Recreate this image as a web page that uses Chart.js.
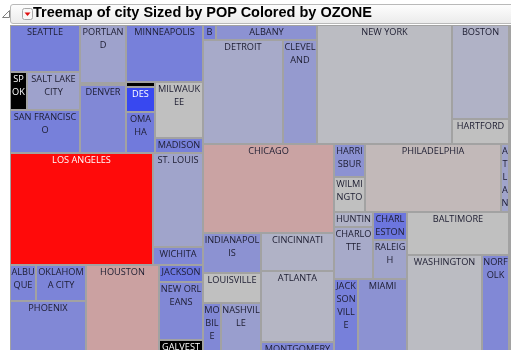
<!DOCTYPE html>
<html>
<head>
<meta charset="utf-8">
<script src="https://cdn.jsdelivr.net/npm/chart.js@4.4.1/dist/chart.umd.min.js"></script>
<style>
    html, body { margin: 0; padding: 0; background: #fff; overflow: hidden; }
    #wrap { position: relative; width: 511px; height: 360px; }
    #treemap { position: absolute; left: 0; top: 0; }
    #outline { position: absolute; left: 2px; top: 10px; }
    #titleBox {
        position: absolute; left: 10px; top: 4px; width: 520px; height: 18px;
        border: 1px solid #b9b9b9; border-radius: 3px;
        background: linear-gradient(#fdfdfd, #ebebeb);
    }
    #menuBtn { position: absolute; left: 22px; top: 8px; }
    #title {
        position: absolute; left: 33px; top: 4px; line-height: 20px;
        font: bold 14.5px 'Liberation Sans', Arial, sans-serif; color: #000; white-space: nowrap;
    }
</style>
</head>
<body>
<div id="wrap">
    <canvas id="treemap" width="511" height="360"></canvas>
    <svg id="outline" width="9" height="9"><polygon points="7.5,0.5 7.5,7.5 0.5,7.5" fill="#fff" stroke="#808080"/></svg>
    <div id="titleBox"></div>
    <svg id="menuBtn" width="11" height="12">
        <rect x="0.5" y="0.5" width="10" height="11" rx="2" fill="#f7f7f7" stroke="#a8a8a8"/>
        <polygon points="2.5,4.5 8.5,4.5 5.5,8" fill="#e01010"/>
    </svg>
    <div id="title">Treemap of city Sized by POP Colored by OZONE</div>
</div>
<script>
// Cities, population (thousands, read from tile areas) and ozone (ppm, null = missing)
const cities = ['SEATTLE', 'SPOKANE', 'SALT LAKE CITY', 'SAN FRANCISCO', 'PORTLAND', 'BOISE', 'DENVER',
    'MINNEAPOLIS', 'SIOUX FALLS', 'DES MOINES', 'OMAHA', 'MILWAUKEE', 'MADISON',
    'LOS ANGELES', 'ST. LOUIS', 'WICHITA',
    'ALBUQUERQUE', 'OKLAHOMA CITY', 'PHOENIX', 'HOUSTON', 'JACKSON', 'NEW ORLEANS', 'GALVESTON',
    'BUFFALO', 'ALBANY', 'DETROIT', 'CLEVELAND', 'NEW YORK', 'BOSTON', 'HARTFORD',
    'CHICAGO', 'INDIANAPOLIS', 'LOUISVILLE', 'MOBILE', 'NASHVILLE', 'CINCINNATI', 'ATLANTA', 'MONTGOMERY',
    'HARRISBURG', 'WILMINGTON', 'PHILADELPHIA', 'ATLANTIC CITY',
    'HUNTINGTON', 'CHARLOTTE', 'CHARLESTON', 'RALEIGH', 'JACKSONVILLE', 'MIAMI',
    'BALTIMORE', 'WASHINGTON', 'NORFOLK'];
const pop = [1744, 338, 1053, 1614, 1399, 60, 1640,
    2341, 71, 391, 649, 1425, 382,
    8488, 2478, 490,
    487, 964, 2215, 3497, 401, 1356, 389,
    103, 803, 4410, 1874, 8514, 2840, 755,
    6214, 1214, 938, 501, 1113, 1451, 2747, 542,
    542, 575, 4901, 288,
    306, 1071, 512, 722, 973, 1987,
    2325, 4042, 1419];
const ozone = [0.108, null, 0.125, 0.108, 0.125, null, 0.112,
    0.108, null, 0.080, 0.105, 0.140, 0.108,
    0.320, 0.126, 0.112,
    0.110, 0.110, 0.112, 0.171, 0.103, 0.112, null,
    0.108, 0.117, 0.129, 0.121, 0.138, 0.133, 0.140,
    0.169, 0.117, 0.140, 0.112, 0.123, 0.133, 0.135, 0.112,
    0.117, 0.140, 0.147, 0.126,
    0.133, 0.129, 0.103, 0.126, 0.108, 0.117,
    0.140, 0.138, 0.112];

// Tile nesting: 'h' = children side by side, 'v' = children stacked
const tileTree = ['h',
    ['v',
        ['h',
            ['v', 'SEATTLE', ['h', 'SPOKANE', 'SALT LAKE CITY'], 'SAN FRANCISCO'],
            ['v', 'PORTLAND', 'BOISE', 'DENVER'],
            ['v', 'MINNEAPOLIS', ['h', ['v', 'SIOUX FALLS', 'DES MOINES', 'OMAHA'], ['v', 'MILWAUKEE', 'MADISON']]]],
        ['h', 'LOS ANGELES', ['v', 'ST. LOUIS', 'WICHITA']],
        ['h',
            ['v', ['h', 'ALBUQUERQUE', 'OKLAHOMA CITY'], 'PHOENIX'],
            'HOUSTON',
            ['v', 'JACKSON', 'NEW ORLEANS', 'GALVESTON']]],
    ['v',
        ['h', ['v', ['h', 'BUFFALO', 'ALBANY'], ['h', 'DETROIT', 'CLEVELAND']], 'NEW YORK', ['v', 'BOSTON', 'HARTFORD']],
        ['h',
            ['v', 'CHICAGO',
                ['h',
                    ['v', 'INDIANAPOLIS', 'LOUISVILLE', ['h', 'MOBILE', 'NASHVILLE']],
                    ['v', 'CINCINNATI', 'ATLANTA', 'MONTGOMERY']]],
            ['v',
                ['h', ['v', 'HARRISBURG', 'WILMINGTON'], 'PHILADELPHIA', 'ATLANTIC CITY'],
                ['h',
                    ['v', ['h', ['v', 'HUNTINGTON', 'CHARLOTTE'], ['v', 'CHARLESTON', 'RALEIGH']], ['h', 'JACKSONVILLE', 'MIAMI']],
                    ['v', 'BALTIMORE', ['h', 'WASHINGTON', 'NORFOLK']]]]]]];

// Blue - grey - red ozone gradient
const lowColor = [56, 72, 240];
const midColor = [192, 192, 192];
const highColor = [255, 10, 10];
const ozoneMid = 0.14;
const known = ozone.filter(v => v !== null);
const ozoneLo = Math.min(...known);
const ozoneHi = Math.max(...known);

function ozoneRgb(v) {
    if (v === null) return [0, 0, 0];
    let a, b, t;
    if (v <= ozoneMid) { a = lowColor; b = midColor; t = (v - ozoneLo) / (ozoneMid - ozoneLo); }
    else { a = midColor; b = highColor; t = (v - ozoneMid) / (ozoneHi - ozoneMid); }
    return a.map((c, i) => Math.round(c + (b[i] - c) * t));
}

function sumOf(node) {
    if (typeof node === 'string') return pop[cities.indexOf(node)];
    return node.slice(1).reduce((s, c) => s + sumOf(c), 0);
}

// slice-and-dice in 0..1 units, following the nesting above
function layout(node, x0, y0, x1, y1, out) {
    if (typeof node === 'string') {
        out.push({ name: node, x0: x0, y0: y0, x1: x1, y1: y1 });
        return out;
    }
    const total = sumOf(node);
    let pos = node[0] === 'h' ? x0 : y0;
    node.slice(1).forEach(child => {
        const f = sumOf(child) / total;
        if (node[0] === 'h') {
            const w = (x1 - x0) * f;
            layout(child, pos, y0, pos + w, y1, out);
            pos += w;
        } else {
            const h = (y1 - y0) * f;
            layout(child, x0, pos, x1, pos + h, out);
            pos += h;
        }
    });
    return out;
}

const tiles = layout(tileTree, 0, 0, 1, 1, []);

const labelFont = "9.2px 'Open Sans', sans-serif";
const lineStep = 13;

function wrapChars(ctx, text, maxW) {
    const lines = [];
    let line = '';
    for (const ch of text) {
        if (line === '' && ch === ' ') continue;
        if (line !== '' && ctx.measureText(line + ch).width > maxW) {
            lines.push(line.trimEnd());
            line = ch === ' ' ? '' : ch;
        } else {
            line += ch;
        }
    }
    if (line) lines.push(line);
    return lines;
}

const treemapTiles = {
    id: 'treemapTiles',
    beforeDatasetsDraw(chart) {
        const { ctx, chartArea, scales: { x, y } } = chart;
        ctx.save();
        ctx.fillStyle = '#a2a2a2';
        ctx.fillRect(chartArea.left, chartArea.top, chart.width - chartArea.left, chart.height - chartArea.top);
        ctx.font = labelFont;
        ctx.textAlign = 'center';
        ctx.textBaseline = 'alphabetic';
        tiles.forEach(t => {
            const i = cities.indexOf(t.name);
            const left = Math.round(x.getPixelForValue(t.x0)) + 1;
            const right = Math.round(x.getPixelForValue(t.x1)) - 1;
            const top = Math.round(y.getPixelForValue(t.y0)) + 1;
            const bottom = Math.round(y.getPixelForValue(t.y1)) - 1;
            const w = right - left, h = bottom - top;
            if (w <= 0 || h <= 0) return;
            const rgb = ozoneRgb(ozone[i]);
            ctx.fillStyle = `rgb(${rgb[0]}, ${rgb[1]}, ${rgb[2]})`;
            ctx.fillRect(left, top, w, h);

            const nLines = Math.floor((h + 1) / lineStep);
            if (nLines < 1) return;
            const lum = 0.299 * rgb[0] + 0.587 * rgb[1] + 0.114 * rgb[2];
            ctx.fillStyle = lum < 100 ? '#ffffff' : '#1c1c30';
            const lines = wrapChars(ctx, t.name, w).slice(0, nLines);
            ctx.save();
            ctx.beginPath();
            ctx.rect(left, top, w, h);
            ctx.clip();
            lines.forEach((ln, k) => ctx.fillText(ln, left + w / 2, top + 9 + k * lineStep));
            ctx.restore();
        });
        ctx.restore();
    }
};

new Chart(document.getElementById('treemap'), {
    type: 'scatter',
    data: {
        datasets: [{
            label: 'city',
            data: tiles.map(t => ({ x: (t.x0 + t.x1) / 2, y: (t.y0 + t.y1) / 2 })),
            pointRadius: 0
        }]
    },
    options: {
        responsive: false,
        animation: false,
        layout: { padding: { left: 10, top: 25, right: 2, bottom: 4 } },
        scales: {
            x: { type: 'linear', min: 0, max: 1, display: false },
            y: { type: 'linear', min: 0, max: 1, reverse: true, display: false }
        },
        plugins: {
            legend: { display: false },
            tooltip: { enabled: false }
        }
    },
    plugins: [treemapTiles]
});
</script>
</body>
</html>
